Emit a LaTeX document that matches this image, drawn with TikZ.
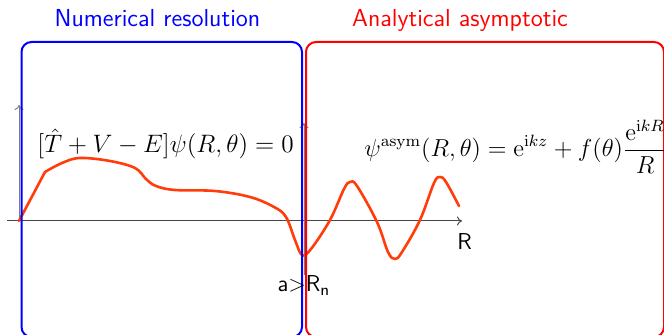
\documentclass[tikz,border=0pt]{standalone}
\usetikzlibrary{positioning,arrows.meta}
\definecolor{PlotBlue}{RGB}{0,0,255}
\definecolor{PlotRed}{RGB}{255,0,0}
\definecolor{PlotWave}{RGB}{255,60,10}
\definecolor{PlotAxis}{RGB}{70,70,70}
\tikzset{
  plot frame/.style={
    line width=1pt,
    rounded corners=5pt
  },
  plot num/.style={plot frame, draw=PlotBlue},
  plot asym/.style={plot frame, draw=PlotRed},
  plot title/.style={font=\fontsize{12.3}{14}\sffamily, anchor=base, inner sep=0pt},
  plot eq/.style={font=\fontsize{12}{15}\selectfont, scale=1.05, transform shape, anchor=base west, inner sep=0pt},
  plot axis/.style={-{To[length=2.5pt,width=4.5pt]}, line width=0.5pt, PlotAxis},
  plot wave/.style={line width=1.3pt, PlotWave, line join=round, line cap=round},
  plot label/.style={font=\fontsize{11.5}{14}\sffamily, inner sep=0pt}
}

\begin{document}
\begin{tikzpicture}[x=0.5pt,y=-0.5pt]
\useasboundingbox (0,0) rectangle (664,335);
% axes
\coordinate (o) at (19,221);
\coordinate (xs) at (7,221);
\coordinate (xe) at (462,221);
\coordinate (ye) at (19,105);
\coordinate (ms) at (304,275);
\coordinate (me) at (304,123);
\draw[plot axis] (xs)--(xe);
\draw[plot axis, PlotAxis!70] (o)--(ye);
\draw[plot axis, PlotAxis!70] (ms)--(me);
% wave function
\draw[plot wave] (o)--(45,172)
  plot[smooth, tension=0.6] coordinates {(45,172) (62,163) (80,158) (110,161) (135,168)
  (146,179) (156,186) (175,190) (215,191) (250,197) (274,207) (286,217) (295,240)
  (302,255) (311,249) (330,220) (344,189) (350,182) (357,186) (377,222) (388,252)
  (395,259) (402,252) (420,220) (434,183) (440,177) (446,182) (459,206)};
% frames
\draw[plot num] (21.5,42) rectangle (302,337);
\draw[plot asym] (306,42) rectangle (664,337);
\node[plot title, text=PlotBlue] (num) at (157.5,27) {Numerical resolution};
\node[plot title, text=PlotRed] (asym) at (460,27) {Analytical asymptotic};
% equations
\node[plot eq] (schr) at (37,153) {$[\hat{T}+V-E]\psi(R,\theta)=0$};
\node[plot eq, scale=0.975] (bound) at (364,157)
  {$\displaystyle\psi^{\mathrm{asym}}(R,\theta)=\mathrm{e}^{\mathrm{i}kz}+f(\theta)\frac{\mathrm{e}^{\mathrm{i}kR}}{R}$};
\node[plot label, anchor=base west] (r) at (457,250) {R};
\node[plot label, anchor=base] (match) at (304,292) {a>R\textsubscript{n}};
\end{tikzpicture}
\end{document}
